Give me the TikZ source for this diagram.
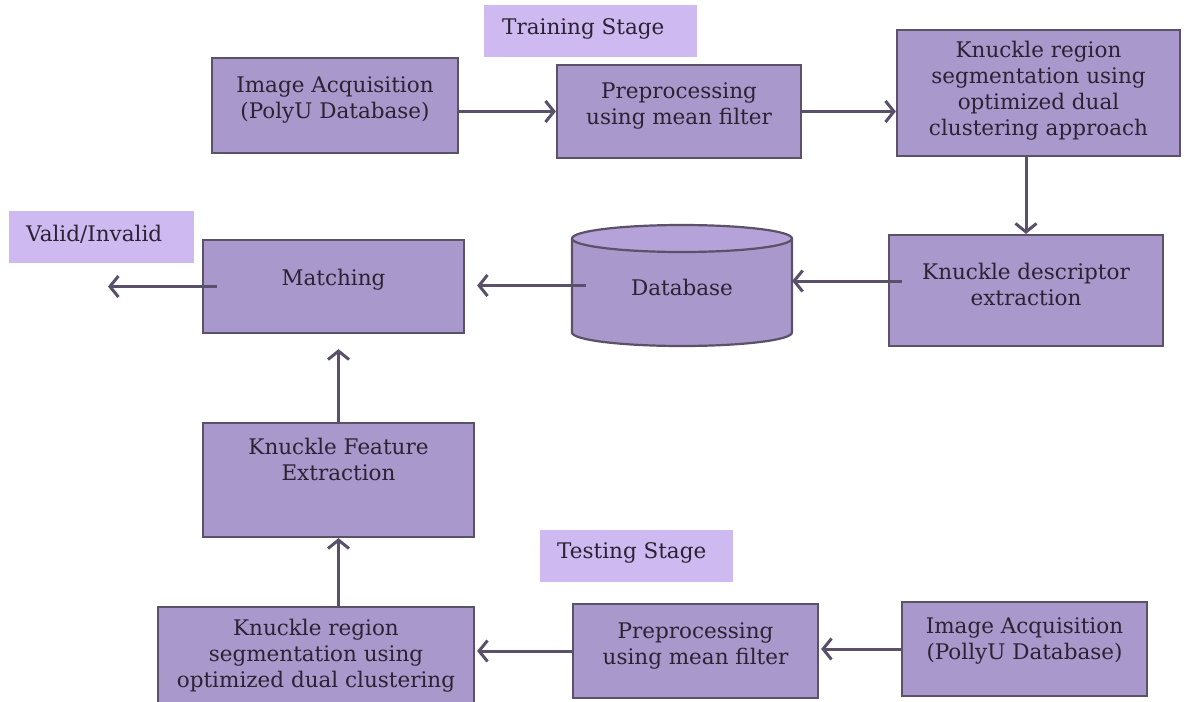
\documentclass[tikz,border=0pt]{standalone}
\usepackage{fontspec}
\setmainfont{DejaVu Serif}
\usetikzlibrary{arrows.meta,positioning}

\definecolor{boxfill}{HTML}{A898CB}
\definecolor{boxline}{HTML}{5C5268}
\definecolor{stagefill}{HTML}{CEB9F0}
\definecolor{dbtop}{HTML}{B4A2D8}
\definecolor{arrline}{HTML}{5A506A}
\definecolor{txtcol}{HTML}{2B2233}

\tikzset{
	box/.style = {draw = boxline, line width = 2.2pt, fill = boxfill, inner sep = 0pt},
	stagelbl/.style = {fill = stagefill, inner sep = 0pt, minimum height = 52pt},
	txt/.style = {text = txtcol, align = center, inner sep = 0pt, font = \fontsize{21.5}{26}\selectfont},
	arr/.style = {draw = arrline, line width = 3pt, -{Straight Barb[length = 8.5pt, width = 21pt, line width = 3pt]}}
}

\begin{document}
\begin{tikzpicture}[x = 1pt, y = -1pt]
		\useasboundingbox (0,0) rectangle (1185,701);
		\clip (0,0) rectangle (1185,701);
		
		% stage labels
		\node[stagelbl, minimum width = 213] (trainL) at (590.5,31) {};
		\node[txt, anchor = west] (trainLtx) at (502,29) {Training Stage};
		\node[stagelbl, minimum width = 185] (validL) at (101.5,237) {};
		\node[txt, anchor = west] (validLtx) at (26,234) {Valid/Invalid};
		\node[stagelbl, minimum width = 193] (testL) at (636.5,556) {};
		\node[txt, anchor = west] (testLtx) at (557,553) {Testing Stage};
		
		% training boxes
		\node[box, minimum width = 246, minimum height = 95] (acqT) at (335,105.5) {};
		\node[txt] (acqTtx) at (335,100) {Image Acquisition\\(PolyU Database)};
		\node[box, minimum width = 244, minimum height = 93] (preT) at (679,111.5) {};
		\node[txt] (preTtx) at (679,106) {Preprocessing\\using mean filter};
		\node[box, minimum width = 283, minimum height = 126] (segT) at (1038.5,93) {};
		\node[txt] (segTtx) at (1038.5,91) {Knuckle region\\segmentation using\\optimized dual\\clustering approach};
		\node[box, minimum width = 274, minimum height = 111] (descT) at (1026,290.5) {};
		\node[txt] (descTtx) at (1026,284) {Knuckle descriptor\\extraction};
		
		% database
		\node[minimum width = 220, minimum height = 121, inner sep = 0pt] (db) at (682,285.5) {};
		\fill[boxfill] (682,332.5) ellipse [x radius = 110, y radius = 13.5];
		\fill[boxfill] (572,238.5) rectangle (792,332.5);
		\draw[boxline, line width = 2.2pt] (572,238.5) -- (572,332.5) arc [start angle = 180, end angle = 0, x radius = 110, y radius = 13.5] -- (792,238.5);
		\filldraw[fill = dbtop, draw = boxline, line width = 2.2pt] (682,238.5) ellipse [x radius = 110, y radius = 13.5];
		\node[txt] (dbtx) at (682,287) {Database};
		
		% matching and testing boxes
		\node[box, minimum width = 261, minimum height = 93] (matchB) at (333.5,286.5) {};
		\node[txt] (matchBtx) at (333.5,280) {Matching};
		\node[box, minimum width = 271, minimum height = 114] (featB) at (338.5,480) {};
		\node[txt] (featBtx) at (338.5,459) {Knuckle Feature\\Extraction};
		\node[box, minimum width = 316, minimum height = 113] (segB) at (316,663.5) {};
		\node[txt] (segBtx) at (316,656) {Knuckle region\\segmentation using\\optimized dual clustering};
		\node[box, minimum width = 245, minimum height = 94] (preB) at (695.5,651) {};
		\node[txt] (preBtx) at (695.5,646) {Preprocessing\\using mean filter};
		\node[box, minimum width = 245, minimum height = 94] (acqB) at (1024.5,649) {};
		\node[txt] (acqBtx) at (1024.5,641) {Image Acquisition\\(PollyU Database)};
		
		\coordinate (outP) at (108,286.5);
		
		% connectors
		\draw[arr] (acqT.east |- preT.west) -- (preT.west);
		\draw[arr] (preT.east) -- (preT.east -| segT.west);
		\draw[arr] (segT.south -| descT.north) -- (descT.north);
		\draw[arr] ([xshift = 14, yshift = 9.5]descT.west) -- ([yshift = 9.5]descT.west -| db.east);
		\draw[arr] ([xshift = 14]db.west) -- ([xshift = 12]db.west -| matchB.east);
		\draw[arr] ([xshift = 15]matchB.west) -- (outP);
		\draw[arr] (featB.north) -- ([yshift = -15]featB.north |- matchB.south);
		\draw[arr] (featB.south |- segB.north) -- (featB.south);
		\draw[arr] (preB.west) -- ([xshift = 2]preB.west -| segB.east);
		\draw[arr] (acqB.west) -- ([xshift = 2]acqB.west -| preB.east);
	\end{tikzpicture}
\end{document}
